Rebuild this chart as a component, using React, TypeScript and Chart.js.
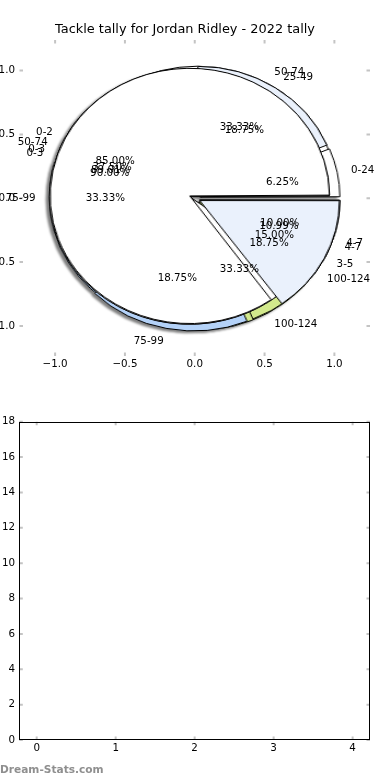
import React, { useEffect, useRef } from "react";
import { Chart, registerables, ArcElement } from "chart.js";

Chart.register(...registerables);

// matplotlib-like explode: translate the wedge without enlarging it
const baseArcDraw = (ArcElement.prototype as any).draw;
if (!(ArcElement.prototype as any).__mplPatched) {
  (ArcElement.prototype as any).draw = function (this: any, ctx: CanvasRenderingContext2D) {
    const shift = (this.options.offset || 0) / 4;
    const fix = 1 - Math.sin(Math.min(Math.PI, this.circumference || 0));
    const r = this.outerRadius;
    this.outerRadius = r - shift * fix;
    baseArcDraw.call(this, ctx);
    this.outerRadius = r;
  };
  (ArcElement.prototype as any).__mplPatched = true;
}

const FONT = '"DejaVu Sans", sans-serif';
const TITLE = "Tackle tally for Jordan Ridley - 2022 tally";
const WATERMARK = "Dream-Stats.com";

// ---- data (pies listed bottom layer first) ----
const pie3Labels = ["50-74", "75-99", "100-124"];
const pie3Values = [33.33, 33.33, 33.33];
const pie2Labels = ["0-24", "25-49", "50-74", "75-99", "100-124"];
const pie2Values = [6.25, 18.75, 37.5, 18.75, 18.75];
const pie5Labels = ["0-3", "4-7"];
const pie5Values = [89.01, 10.99];
const pie4Labels = ["0-3", "4-7"];
const pie4Values = [90.0, 10.0];
const pie1Labels = ["0-2", "3-5"];
const pie1Values = [85.0, 15.0];

const pieAxisTicks = [-1, -0.5, 0, 0.5, 1];
const pieAxisTickLabels = ["−1.0", "−0.5", "0.0", "0.5", "1.0"];
const lowerXTicks = [0, 1, 2, 3, 4];
const lowerXTickLabels = ["0", "1", "2", "3", "4"];
const lowerYTicks = [0, 2, 4, 6, 8, 10, 12, 14, 16, 18];
const lowerYTickLabels = ["0", "2", "4", "6", "8", "10", "12", "14", "16", "18"];

const PIES = [
  { labels: pie3Labels, values: pie3Values },
  { labels: pie2Labels, values: pie2Values },
  { labels: pie5Labels, values: pie5Values },
  { labels: pie4Labels, values: pie4Values },
  { labels: pie1Labels, values: pie1Values },
];

// ---- styles ----
const WHITE = "#ffffff";
const LIGHT = "#eaf1fc";
const BLUE = "#b4d2f8";
const GREEN = "#d2e98c";
const SLICE_COLORS: Record<string, string> = {
  "0-24": WHITE,
  "25-49": LIGHT,
  "50-74": WHITE,
  "75-99": BLUE,
  "100-124": GREEN,
  "0-2": WHITE,
  "3-5": LIGHT,
  "0-3": WHITE,
  "4-7": LIGHT,
};
const PIE_RADIUS = 1.0;
const EXPLODE = 0.04;
const LABEL_DIST = 1.1;
const PCT_DIST = 0.6;
const BORDER = 1;
const TICK_FONT = 10.3;

const frameTicksPlugin = {
  id: "frameTicks",
  afterDraw(chart: any, _args: any, opts: any) {
    const { ctx, chartArea: a, scales } = chart;
    const L = 3.5;
    ctx.save();
    ctx.strokeStyle = "#c4c4c4";
    ctx.lineWidth = 2;
    ctx.beginPath();
    for (const t of scales.x.ticks) {
      const px = scales.x.getPixelForValue(t.value);
      ctx.moveTo(px, a.bottom);
      ctx.lineTo(px, a.bottom - L);
      ctx.moveTo(px, a.top);
      ctx.lineTo(px, a.top + L);
    }
    for (const t of scales.y.ticks) {
      const py = scales.y.getPixelForValue(t.value);
      ctx.moveTo(a.left, py);
      ctx.lineTo(a.left + L, py);
      ctx.moveTo(a.right, py);
      ctx.lineTo(a.right - L, py);
    }
    ctx.stroke();
    if (opts && opts.frame) {
      ctx.strokeStyle = "#000";
      ctx.lineWidth = 1;
      const l = Math.round(a.left) + 0.5;
      const t = Math.round(a.top) + 0.5;
      const r = Math.round(a.right) - 0.5;
      const b = Math.round(a.bottom) - 0.5;
      ctx.strokeRect(l, t, r - l, b - t);
    }
    ctx.restore();
  },
};

const pieLabelsPlugin = {
  id: "pieLabels",
  afterDraw(chart: any) {
    const { ctx } = chart;
    const xs = chart.scales.x;
    const ys = chart.scales.y;
    ctx.save();
    ctx.font = `${TICK_FONT}px ${FONT}`;
    ctx.fillStyle = "#000";
    ctx.textBaseline = "middle";
    for (const pie of PIES) {
      const total = pie.values.reduce((s, v) => s + v, 0);
      let cum = 0;
      pie.values.forEach((v, i) => {
        const mid = ((cum + v / 2) / total) * Math.PI * 2;
        cum += v;
        const c = Math.cos(mid);
        const s = Math.sin(mid);
        const lr = EXPLODE + LABEL_DIST * PIE_RADIUS;
        const lx = lr * c;
        const ly = lr * s;
        ctx.textAlign = lx > 0 ? "left" : "right";
        ctx.fillText(pie.labels[i], xs.getPixelForValue(lx), ys.getPixelForValue(ly));
        const pr = EXPLODE + PCT_DIST * PIE_RADIUS;
        ctx.textAlign = "center";
        ctx.fillText(
          `${((v / total) * 100).toFixed(2)}%`,
          xs.getPixelForValue(pr * c),
          ys.getPixelForValue(pr * s)
        );
      });
    }
    ctx.restore();
  },
};

function axisScale(
  min: number,
  max: number,
  tickVals: number[],
  tickLabels: string[],
  padding: number,
  fit: (s: any) => void
) {
  return {
    type: "linear" as const,
    min,
    max,
    grid: { display: false, drawTicks: false },
    border: { display: false },
    ticks: {
      color: "#000",
      font: { family: FONT, size: TICK_FONT },
      padding,
      autoSkip: false,
      maxRotation: 0,
      callback: (_v: any, i: number) => tickLabels[i],
    },
    afterBuildTicks: (s: any) => {
      s.ticks = tickVals.map((v) => ({ value: v }));
    },
    afterFit: fit,
  };
}

export default function App() {
  const pieRefs = useRef<(HTMLCanvasElement | null)[]>([]);
  const axesRef = useRef<HTMLCanvasElement>(null);
  const lowerRef = useRef<HTMLCanvasElement>(null);

  useEffect(() => {
    const charts: Chart[] = [];
    const axes = new Chart(axesRef.current as HTMLCanvasElement, {
      type: "scatter",
      data: { datasets: [] },
      options: {
        animation: false,
        responsive: false,
        devicePixelRatio: 1,
        events: [],
        layout: { padding: { left: 0, right: 20, top: 0, bottom: 0 } },
        plugins: {
          legend: { display: false },
          tooltip: { enabled: false },
          title: {
            display: true,
            text: TITLE,
            color: "#000",
            font: { family: FONT, size: 12.9, weight: "normal" },
            padding: { top: 21.8, bottom: 2.7 },
          },
          frameTicks: { frame: false },
        } as any,
        scales: {
          x: axisScale(-1.255, 1.255, pieAxisTicks, pieAxisTickLabels, 2, (s: any) => {
            s.height = 34;
          }),
          y: axisScale(-1.236, 1.24, pieAxisTicks, pieAxisTickLabels, 4.5, (s: any) => {
            s.width = 19.5;
          }),
        } as any,
      },
      plugins: [frameTicksPlugin, pieLabelsPlugin],
    });
    charts.push(axes);

    const xs: any = axes.scales.x;
    const ys: any = axes.scales.y;
    const cx = xs.getPixelForValue(0);
    const cy = ys.getPixelForValue(0);
    const ux = xs.getPixelForValue(1) - cx;
    const uy = cy - ys.getPixelForValue(1);

    PIES.forEach((pie, i) => {
      const c = pieRefs.current[i] as HTMLCanvasElement;
      const R = uy * PIE_RADIUS;
      const offOpt = EXPLODE * uy * 4;
      const S = Math.ceil(2 * R + BORDER + offOpt) + 2;
      const left = Math.round(cx - S / 2);
      const top = Math.round(cy - S / 2);
      const dx = cx - left - S / 2;
      const dy = cy - top - S / 2;
      c.width = S;
      c.height = S;
      c.style.left = `${left}px`;
      c.style.top = `${top}px`;
      c.style.transformOrigin = `${cx - left}px ${cy - top}px`;
      c.style.transform = `scaleX(${ux / uy})`;
      const labels = [...pie.labels].reverse();
      const values = [...pie.values].reverse();
      const colors = pie.labels.map((l) => SLICE_COLORS[l]).reverse();
      charts.push(
        new Chart(c, {
          type: "pie",
          data: {
            labels,
            datasets: [
              {
                data: values,
                backgroundColor: colors,
                borderColor: "#000",
                borderWidth: BORDER,
                hoverBorderWidth: BORDER,
                borderAlign: "center",
                offset: offOpt,
                hoverOffset: offOpt,
              } as any,
            ],
          },
          options: {
            animation: false,
            responsive: false,
            devicePixelRatio: 1,
            events: [],
            rotation: 90,
            radius: R,
            layout: {
              padding: {
                left: Math.max(0, 2 * dx),
                right: Math.max(0, -2 * dx),
                top: Math.max(0, 2 * dy),
                bottom: Math.max(0, -2 * dy),
              },
            },
            plugins: {
              legend: { display: false },
              tooltip: { enabled: false },
              title: { display: false },
            },
          } as any,
        })
      );
    });

    charts.push(
      new Chart(lowerRef.current as HTMLCanvasElement, {
        type: "scatter",
        data: { datasets: [] },
        options: {
          animation: false,
          responsive: false,
          devicePixelRatio: 1,
          events: [],
          layout: { padding: { left: 0, right: 20, top: 31.7, bottom: 0 } },
          plugins: {
            legend: { display: false },
            tooltip: { enabled: false },
            title: { display: false },
            frameTicks: { frame: true },
          } as any,
          scales: {
            x: axisScale(-0.22, 4.22, lowerXTicks, lowerXTickLabels, 2, (s: any) => {
              s.height = 40;
            }),
            y: axisScale(0, 18, lowerYTicks, lowerYTickLabels, 4.3, (s: any) => {
              s.width = 19.3;
            }),
          } as any,
        },
        plugins: [frameTicksPlugin],
      })
    );

    return () => {
      charts.forEach((ch) => ch.destroy());
    };
  }, []);

  return (
    <div
      style={{
        position: "absolute",
        left: 0,
        top: 0,
        width: 390,
        height: 780,
        background: "#fff",
        overflow: "hidden",
      }}
    >
      <div
        style={{
          position: "absolute",
          left: 0,
          top: 0,
          width: 390,
          height: 390,
          filter: "drop-shadow(-2.5px 2.5px 1.2px rgba(0,0,0,0.5))",
        }}
      >
        {PIES.map((_, i) => (
          <canvas
            key={i}
            ref={(el) => {
              pieRefs.current[i] = el;
            }}
            style={{ position: "absolute" }}
          />
        ))}
      </div>
      <canvas ref={axesRef} width={390} height={390} style={{ position: "absolute", left: 0, top: 0 }} />
      <canvas ref={lowerRef} width={390} height={390} style={{ position: "absolute", left: 0, top: 390 }} />
      <div
        style={{
          position: "absolute",
          left: 0,
          top: 764,
          fontFamily: FONT,
          fontSize: "10.6px",
          fontWeight: "bold",
          lineHeight: "11.6px",
          color: "#8f8f8f",
          whiteSpace: "nowrap",
        }}
      >
        {WATERMARK}
      </div>
    </div>
  );
}
